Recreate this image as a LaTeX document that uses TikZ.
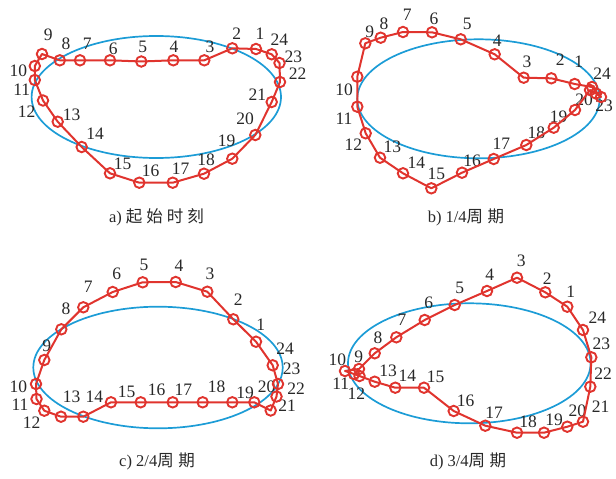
\documentclass[tikz,border=0pt]{standalone}
\usepackage{fontspec}
\setmainfont{Liberation Serif}
\newfontfamily\cjk{Noto Sans CJK SC}
\definecolor{pred}{RGB}{224,52,46}
\definecolor{pblue}{RGB}{28,156,214}
\definecolor{ptext}{RGB}{40,40,40}
\tikzset{
  mk/.style={circle,draw=pred,line width=1.9pt,minimum size=10.5pt,inner sep=0pt},
  lbl/.style={font=\fontsize{17.5}{18}\selectfont,text=ptext,inner sep=0pt},
  link/.style={draw=pred,line width=2pt,line join=round},
  ell/.style={draw=pblue,line width=1.7pt},
  captext/.style={font=\fontsize{16.5}{18}\selectfont,text=ptext,inner sep=0pt}
}
\begin{document}
\begin{tikzpicture}[x=1pt,y=-1pt]
\useasboundingbox (0,0) rectangle (616,479);
% ---------- panel a ----------
\draw[ell] (156.3,97) ellipse [x radius=124.7pt, y radius=61pt];
\foreach \i/\x/\y/\lx/\ly in {1/256/49/260/33.3, 2/232.3/48.3/236.7/33.3, 3/204.3/60.3/210/46.7,
  4/173.3/60.3/174/46.7, 5/141.3/61.5/142.7/46.7, 6/110/60.3/113.3/48.3, 7/80/60.3/87.3/43.3,
  8/59.8/60.3/66/44, 9/42/54/48.3/35, 10/34.8/66/18.3/70.7, 11/34.8/80/21.7/89.3,
  12/43/100.5/26.7/111.7, 13/57.7/121.7/71.7/115, 14/81.7/147/95/133.3, 15/110/173.3/122.7/164,
  16/139.3/182.7/150.7/170.7, 17/172.7/182.7/180.7/168.3, 18/204/173.7/206/160,
  19/232.3/158.7/226.7/140.7, 20/255.3/135/245/118.3, 21/271.7/102/257.3/95,
  22/280/82/297.7/74, 23/279.5/63/293.3/56.7, 24/271.7/54.3/279.3/39.3} {
  \coordinate (a\i) at (\x,\y);
  \node[lbl] (la\i) at (\lx,\ly) {\i};
}
\draw[link] (a1) \foreach \i in {2,...,24}{ -- (a\i)} -- cycle;
\foreach \i in {1,...,24} \node[mk] (ma\i) at (a\i) {};
\node[captext] (capa) at (156.5,217.7) {a) {\cjk 起\hspace{4pt}始\hspace{4pt}时\hspace{4pt}刻}};
% ---------- panel b ----------
\draw[ell] (478.5,98.8) ellipse [x radius=121.2pt, y radius=59.5pt];
\foreach \i/\x/\y in {1/574.7/84, 2/551.3/78.3, 3/523.7/77.7, 4/494.7/54.3, 5/460.7/39.3,
  6/432/32.3, 7/403/32, 8/380.7/37.7, 9/365.3/43.3, 10/357.3/76.7, 11/357.3/106.7,
  12/365.7/133.3, 13/380/157.7, 14/403/173.3, 15/431.3/188.3, 16/462/172.7, 17/493.7/159,
  18/526.3/145, 19/553.7/127.7, 20/575/110, 21/590/90, 22/596/93.5, 23/601/97, 24/592/87} {
  \coordinate (b\i) at (\x,\y);
}
\foreach \i/\lx/\ly in {1/578.7/61.7, 2/560.3/60, 3/527/61.7, 4/497.3/40.7, 5/467.3/24,
  6/434/18.3, 7/407.3/15, 8/384/23.3, 9/369.7/31.7, 10/344/90, 11/344/118.3, 12/353.3/145,
  13/392.3/146.7, 14/416.3/162.7, 15/436.3/174, 16/472/160.7, 17/501.3/143.3, 18/536.3/132.7,
  19/558.7/116.7, 20/584/100, 23/604/106, 24/602/74} {
  \node[lbl] (lb\i) at (\lx,\ly) {\i};
}
\draw[link] (b1) \foreach \i in {2,...,24}{ -- (b\i)} -- cycle;
\foreach \i in {1,...,24} \node[mk] (mb\i) at (b\i) {};
\node[captext] (capb) at (466,217.7) {b) 1/4{\cjk 周\hspace{4.5pt}期}};
% ---------- panel c ----------
\draw[ell] (158,367.5) ellipse [x radius=124.7pt, y radius=60.8pt];
\foreach \i/\x/\y/\lx/\ly in {1/256/341.7/260.7/325, 2/233.3/319.3/238.3/299.3,
  3/207.3/291.7/210/273.3, 4/175.7/282/179/266, 5/142.7/282.3/144/265, 6/112.7/292/116.7/273.3,
  7/83.3/307.3/88.3/286.7, 8/61.3/329.3/66/308.3, 9/44.3/360/46.7/346, 10/36/384/18.3/386.7,
  11/36.5/399/20/405, 12/44.3/410.7/31.7/422.7, 13/61/416.7/71.7/396.7, 14/83.3/416.7/94.3/396.7,
  15/111/402.3/126.7/391.7, 16/140.7/402.3/156.7/390, 17/172.7/402.3/183.3/390,
  18/202.7/402.3/216.7/386.7, 19/232.3/402.3/245/392.7, 20/254.3/402.3/266.7/386.7,
  21/270.7/410.5/287/405.5, 22/276.5/396.5/296/388.3, 23/278/384/291.7/368.3,
  24/272.7/365.3/285/348.3} {
  \coordinate (c\i) at (\x,\y);
  \node[lbl] (lc\i) at (\lx,\ly) {\i};
}
\draw[link] (c1) \foreach \i in {2,...,24}{ -- (c\i)} -- cycle;
\foreach \i in {1,...,24} \node[mk] (mc\i) at (c\i) {};
\node[captext] (capc) at (157,461.7) {c) 2/4{\cjk 周\hspace{4.5pt}期}};
% ---------- panel d ----------
\draw[ell] (469.3,363.3) ellipse [x radius=121.3pt, y radius=60pt];
\foreach \i/\x/\y/\lx/\ly in {1/567.3/306.7/570.7/291.7, 2/545.3/292.3/547.3/278.3,
  3/517/277.7/521.3/260.7, 4/487/291/489.7/275, 5/454.7/305/459.7/288.3, 6/424.7/320/428.7/302.7,
  7/396.3/337.3/402/320, 8/374.7/353.3/378/337.3, 9/359/369/358.7/356.7, 10/345/371/337.3/359.3,
  11/354/374/340.7/384, 12/359.5/376/356.3/394, 13/374.7/381.7/388/370.7, 14/395.3/387.7/407.3/376,
  15/424/387.7/435.7/377.3, 16/453.7/411/465.7/401, 17/485.3/425.7/494/412.3,
  18/517/432.7/528/421.7, 19/544/432.7/554/420, 20/567.3/426.7/577.3/410.7,
  21/583/421.7/600.7/406.7, 22/590.3/386.7/603/374, 23/591.3/357.3/601.3/344,
  24/583/330/597.3/317.3} {
  \coordinate (d\i) at (\x,\y);
  \node[lbl] (ld\i) at (\lx,\ly) {\i};
}
\draw[link] (d1) \foreach \i in {2,...,24}{ -- (d\i)} -- cycle;
\foreach \i in {1,...,24} \node[mk] (md\i) at (d\i) {};
\node[captext] (capd) at (468,461.7) {d) 3/4{\cjk 周\hspace{4.5pt}期}};
\end{tikzpicture}
\end{document}
